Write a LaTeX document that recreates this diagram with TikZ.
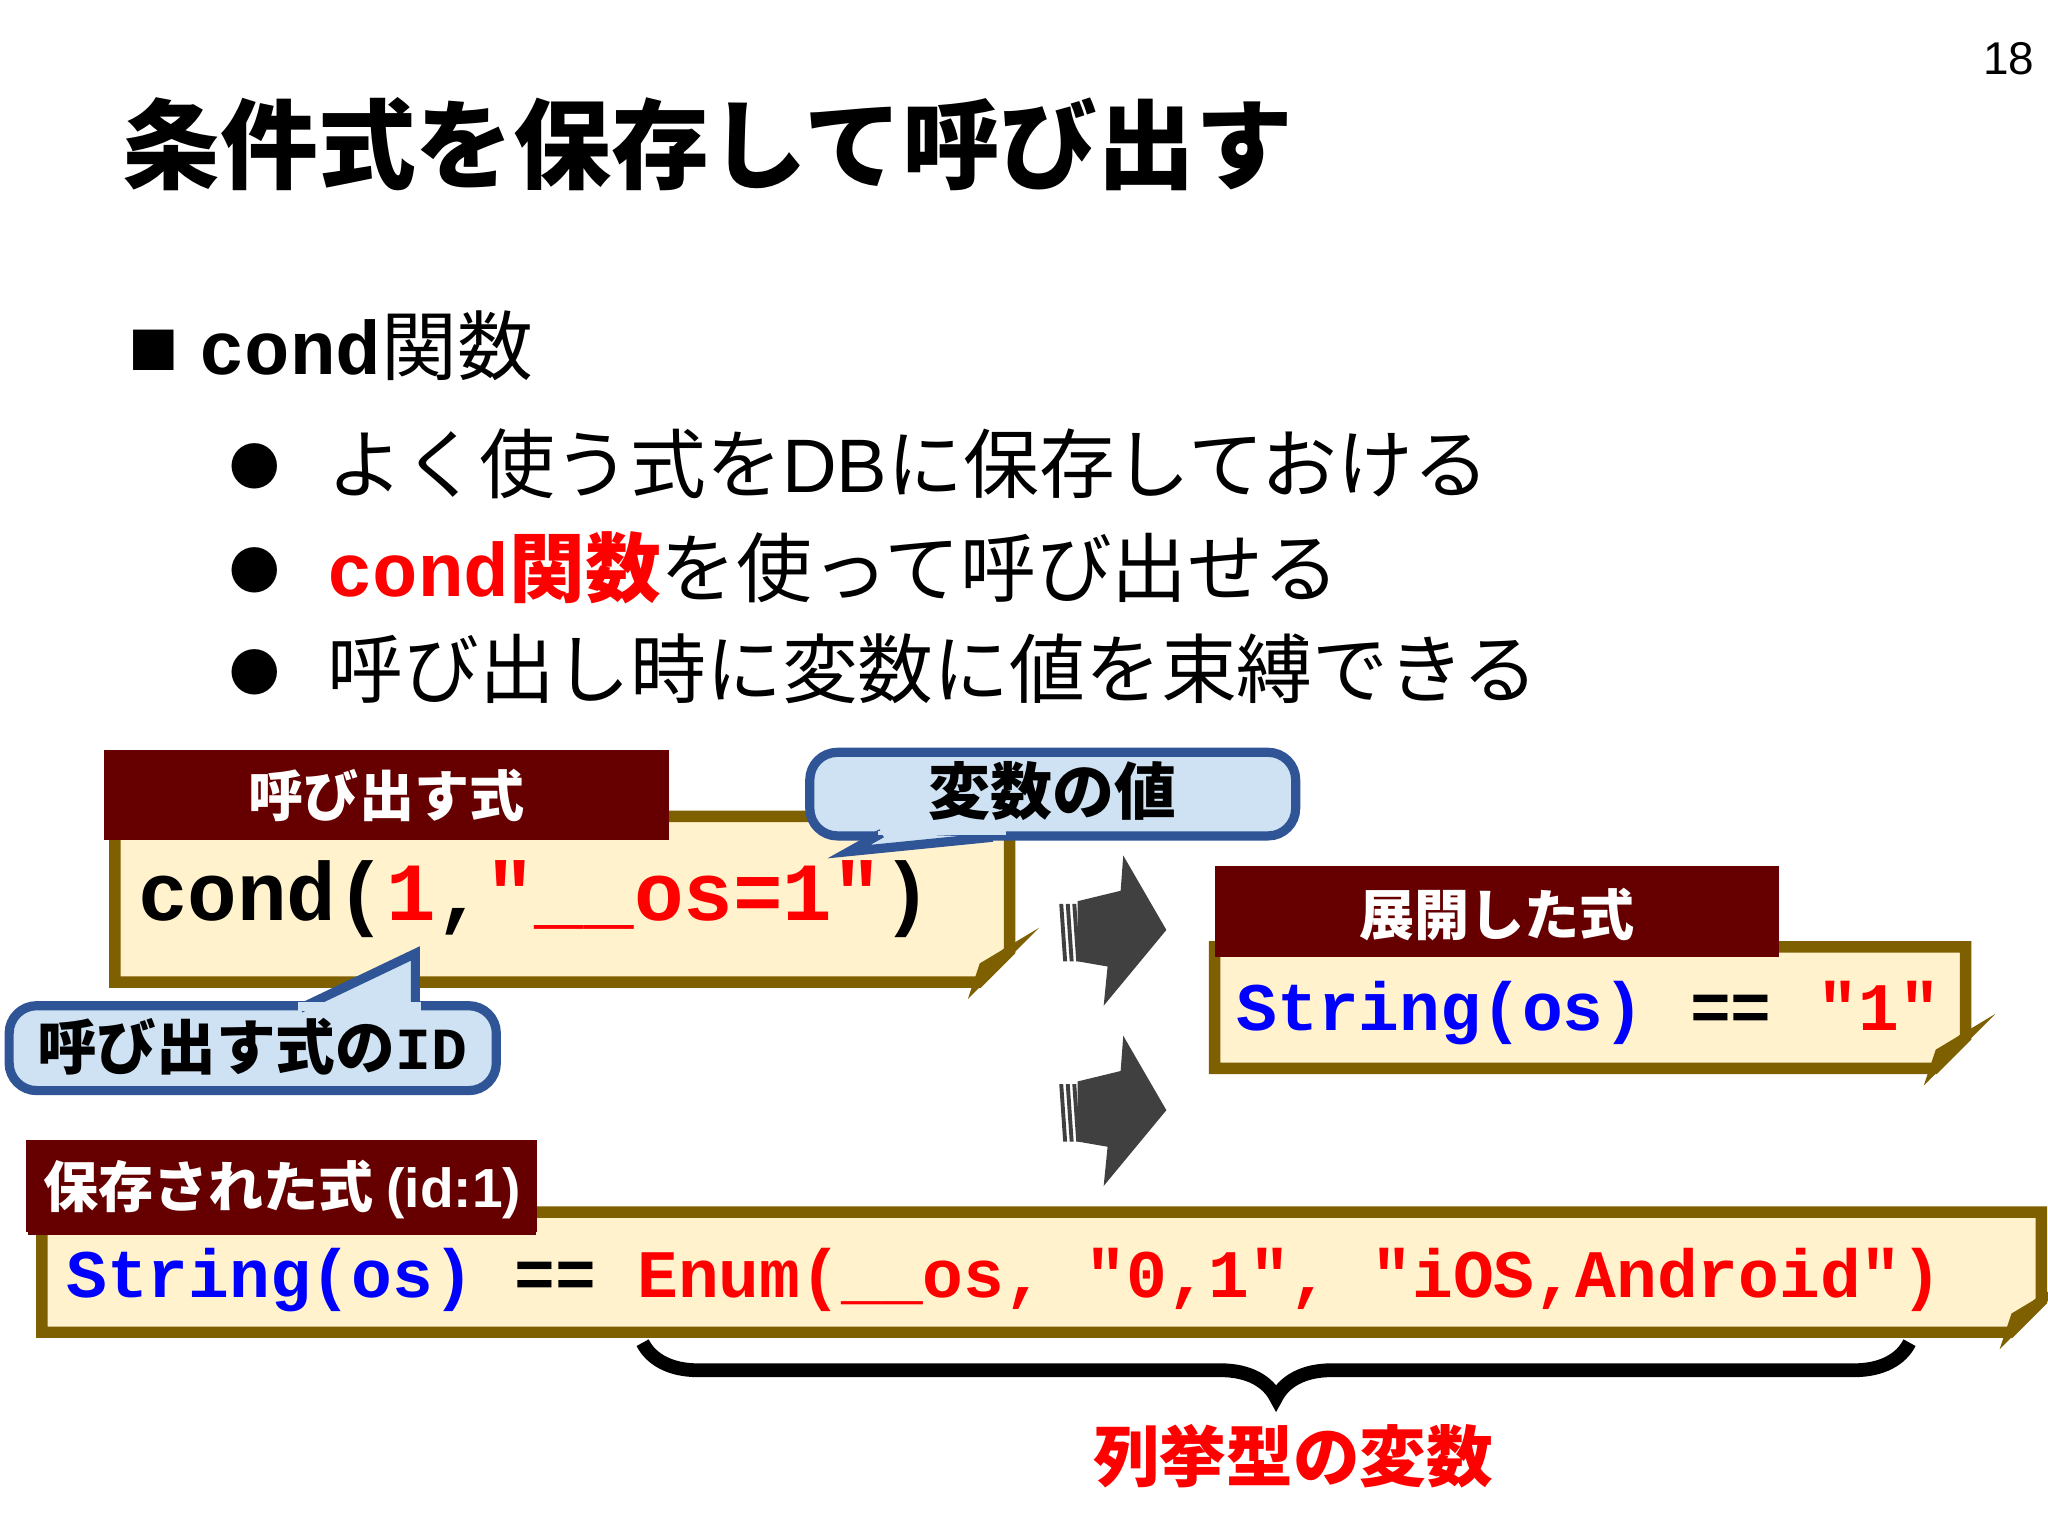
\documentclass[tikz,border=0pt]{standalone}
\usepackage{fontspec}
\setmainfont{Liberation Sans}
\setmonofont{Liberation Mono}
\newfontfamily\jp{Noto Sans CJK JP}
\usetikzlibrary{decorations.pathreplacing}
\definecolor{hdr}{HTML}{660000}
\definecolor{cream}{HTML}{FFF2CC}
\definecolor{brn}{HTML}{7F6000}
\definecolor{lblue}{HTML}{CFE2F3}
\definecolor{dblue}{HTML}{2F5597}
\definecolor{cblue}{HTML}{0000FF}
\definecolor{cred}{HTML}{FF0000}
\definecolor{agray}{HTML}{404040}
\tikzset{
  hdrbox/.style={fill=hdr,text=white,font=\jp\bfseries\fontsize{12}{12}\selectfont},
  codetext/.style={anchor=west,inner sep=0,font=\ttfamily\bfseries\fontsize{14.8}{14.8}\selectfont},
  callout/.style={fill=lblue,draw=dblue,line width=2pt,rounded corners=6pt},
  jpt/.style={anchor=west,inner sep=0,font=\jp\fontsize{16.5}{16.5}\selectfont},
}
\newcommand{\codebox}[4]{% x1 y1 x2 y2
  \filldraw[fill=cream,draw=brn,line width=2.5pt] (#1,#2)--(#3,#2)--(#3,#4-24)--(#3-24,#4)--(#1,#4)--cycle;
  \draw[brn,line width=2pt,fill=cream!70!brn] (#3,#4-24)--(#3-24,#4)--(#3-20,#4-12)--cycle;}
\newcommand{\blockarrow}[2]{% tip x, tip y
  \fill[agray] (#1-68,#2-22)--(#1-35,#2-30)--(#1-33,#2-57)--(#1,#2)--(#1-48,#2+58)--(#1-45,#2+28)--(#1-68,#2+24)--cycle;
  \foreach \k in {0,1,2}{\fill[agray] (#1-82+\k*5,#2-20)--(#1-79+\k*5,#2-20)--(#1-76+\k*5,#2+24)--(#1-79+\k*5,#2+24)--cycle;}}
\begin{document}
\begin{tikzpicture}[x=0.01cm,y=-0.01cm]
\useasboundingbox (0,0) rectangle (1568,1176);
\node[anchor=center] (pg) at (1538,45) {\fontsize{10}{10}\selectfont 18};
\node[anchor=west,inner sep=0,font=\jp\bfseries\fontsize{21.3}{21.3}\selectfont] (title) at (93,110) {条件式を保存して呼び出す};
\node[jpt] (b0a) at (98,268) {\fontsize{11}{11}\selectfont■};
\node[jpt] (b0) at (152,265) {\texttt{\bfseries cond}関数};
\node[jpt] (b1d) at (175,357) {\fontsize{11}{11}\selectfont●};
\node[jpt] (b1) at (250,355) {よく使う式を\rmfamily DB\jp に保存しておける};
\node[jpt] (b2d) at (175,437) {\fontsize{11}{11}\selectfont●};
\node[jpt] (b2) at (250,435) {\textcolor{cred}{\texttt{\bfseries cond}\bfseries 関数}を使って呼び出せる};
\node[jpt] (b3d) at (175,515) {\fontsize{11}{11}\selectfont●};
\node[jpt] (b3) at (250,512) {呼び出し時に変数に値を束縛できる};

% box 1
\codebox{88}{625}{773}{752}
\fill[hdr] (80,574) rectangle (512,643);
\node[hdrbox] (h1) at (296,609) {呼び出す式};
\node[codetext,font=\ttfamily\bfseries\fontsize{18}{18}\selectfont] (c1) at (105,688) {cond(\textcolor{cred}{1},\textcolor{cred}{"\_\_os=1"})};

% callout value
\filldraw[callout] (620,576) rectangle (992,640);
\filldraw[fill=lblue,draw=dblue,line width=2pt] (675,638)--(650,652)--(760,641);
\fill[lblue] (672,636) rectangle (770,639);
\node[font=\jp\bfseries\fontsize{13.5}{13.5}\selectfont] (v) at (806,606) {変数の値};

% callout ID
\filldraw[callout] (7,770) rectangle (380,835);
\filldraw[fill=lblue,draw=dblue,line width=2pt] (230,772)--(318,730)--(318,772);
\fill[lblue] (228,767) rectangle (322,774);
\node[font=\jp\bfseries\fontsize{13}{13}\selectfont] (id) at (193,801) {呼び出す式の\texttt{ID}};

% arrows
\blockarrow{893}{712}
\blockarrow{893}{850}

% box 2
\codebox{930}{725}{1505}{818}
\fill[hdr] (930,663) rectangle (1362,733);
\node[hdrbox] (h2) at (1146,700) {展開した式};
\node[codetext] (c2) at (946,776) {\textcolor{cblue}{String(os)}\hspace{0.35cm}==\hspace{0.35cm}\textcolor{cred}{"1"}};

% box 3
\codebox{32}{928}{1563}{1020}
\fill[hdr] (20,873) rectangle (411,943);
\node[hdrbox] (h3) at (216,911) {保存された式 \rmfamily\bfseries(id:1)};
\node[codetext] (c3) at (50,980) {\textcolor{cblue}{String(os)} == \textcolor{cred}{Enum(\_\_os, "0,1", "iOS,Android")}};

% brace
\coordinate (br1) at (492,1028);
\coordinate (br2) at (1462,1028);
\draw[line width=3pt,decorate,decoration={brace,mirror,amplitude=12pt}] (br1)--(br2);
\node[font=\jp\bfseries\fontsize{14.5}{14.5}\selectfont,text=cred] (lab) at (990,1115) {列挙型の変数};
\end{tikzpicture}
\end{document}
